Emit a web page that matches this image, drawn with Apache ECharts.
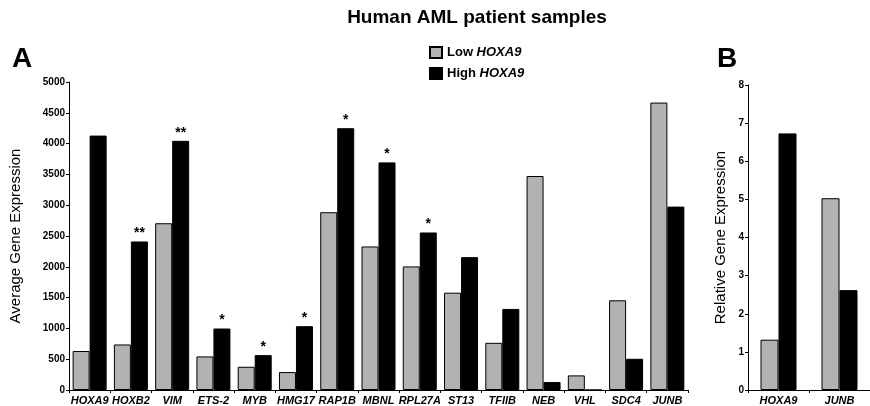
<!DOCTYPE html>
<html><head><meta charset="utf-8">
<script src="https://cdn.jsdelivr.net/npm/echarts@6/dist/echarts.min.js"></script>
<style>html,body{margin:0;padding:0;background:#fff}#c{width:870px;height:406px}</style>
</head><body><div id="c"></div>
<script>
const genesA = ['HOXA9','HOXB2','VIM','ETS-2','MYB','HMG17','RAP1B','MBNL','RPL27A','ST13','TFIIB','NEB','VHL','SDC4','JUNB'];
const lowA  = [633, 739, 2707, 545, 377, 291, 2886, 2330, 2006, 1580, 766, 3474, 237, 1456, 4666];
const highA = [4130, 2411, 4045, 998, 566, 1036, 4250, 3695, 2557, 2157, 1316, 129, 0, 507, 2977];
const starsA = ['', '**', '**', '*', '*', '*', '*', '*', '*', '', '', '', '', '', ''];
const genesB = ['HOXA9','JUNB'];
const lowB  = [1.32, 5.03];
const highB = [6.73, 2.62];
const yTicksA = [0, 5000, 500];
const yTicksB = [0, 8, 1];

const FONT = 'Liberation Sans, Arial, sans-serif';
const GRAY = '#b2b2b2';
const chart = echarts.init(document.getElementById('c'));

function catAxis(gi, data) {
  return {
    type: 'category', gridIndex: gi, data: data,
    axisLine: {lineStyle: {color: '#000', width: 1}},
    axisTick: {show: true, inside: false, length: 3, lineStyle: {color: '#000'}},
    axisLabel: {color: '#000', fontFamily: FONT, fontSize: 11, fontWeight: 'bold', fontStyle: 'italic', margin: 5, interval: 0}
  };
}
function valAxis(gi, t, name, gap) {
  return {
    type: 'value', gridIndex: gi, min: t[0], max: t[1], interval: t[2],
    name: name, nameLocation: 'middle', nameGap: gap,
    nameTextStyle: {color: '#000', fontFamily: FONT, fontSize: 15},
    axisLine: {show: true, lineStyle: {color: '#000', width: 1}},
    axisTick: {show: true, length: 3, lineStyle: {color: '#000'}},
    splitLine: {show: false},
    axisLabel: {color: '#000', fontFamily: FONT, fontSize: 10, fontWeight: 'bold', margin: 4,
      formatter: function (v) { return String(v); }}
  };
}
const lowStyle = {color: GRAY, borderColor: '#000', borderWidth: 1};
const highStyle = {color: '#000', borderColor: '#000', borderWidth: 1};

chart.setOption({
  animation: false,
  backgroundColor: '#fff',
  title: [
    {text: 'Human AML patient samples', left: 477, top: 8, padding: 0, textAlign: 'center',
     textStyle: {fontFamily: FONT, fontSize: 19, fontWeight: 'bold', color: '#000'}},
    {text: 'A', left: 12, top: 45, padding: 0, textStyle: {fontFamily: FONT, fontSize: 28, fontWeight: 'bold', color: '#000'}},
    {text: 'B', left: 717, top: 45, padding: 0, textStyle: {fontFamily: FONT, fontSize: 28, fontWeight: 'bold', color: '#000'}}
  ],
  legend: {
    left: 424, top: 41, orient: 'vertical', itemWidth: 12, itemHeight: 11, itemGap: 8, icon: 'rect',
    data: ['Low HOXA9', 'High HOXA9'],
    formatter: function (n) { const p = n.split(' '); return '{b|' + p[0] + ' }{i|' + p[1] + '}'; },
    textStyle: {rich: {
      b: {fontFamily: FONT, fontSize: 13, fontWeight: 'bold', color: '#000'},
      i: {fontFamily: FONT, fontSize: 13, fontWeight: 'bold', fontStyle: 'italic', color: '#000'}
    }}
  },
  grid: [
    {left: 68, right: 182, top: 82, bottom: 16},
    {left: 748, right: 0, top: 85, bottom: 16}
  ],
  xAxis: [catAxis(0, genesA), catAxis(1, genesB)],
  yAxis: [valAxis(0, yTicksA, 'Average Gene Expression', 46), valAxis(1, yTicksB, 'Relative Gene Expression', 20)],
  series: [
    {name: 'Low HOXA9', type: 'bar', xAxisIndex: 0, yAxisIndex: 0, data: lowA, barWidth: 17, barGap: '0%', itemStyle: lowStyle},
    {name: 'High HOXA9', type: 'bar', xAxisIndex: 0, yAxisIndex: 0, data: highA, barWidth: 17, barGap: '0%', itemStyle: highStyle,
     label: {show: true, position: 'top', distance: 1, color: '#000', fontFamily: FONT, fontSize: 14, fontWeight: 'bold',
       formatter: function (p) { return starsA[p.dataIndex]; }}},
    {name: 'Low HOXA9', type: 'bar', xAxisIndex: 1, yAxisIndex: 1, data: lowB, barWidth: 18, barGap: '0%', itemStyle: lowStyle},
    {name: 'High HOXA9', type: 'bar', xAxisIndex: 1, yAxisIndex: 1, data: highB, barWidth: 18, barGap: '0%', itemStyle: highStyle}
  ]
});
</script></body></html>
